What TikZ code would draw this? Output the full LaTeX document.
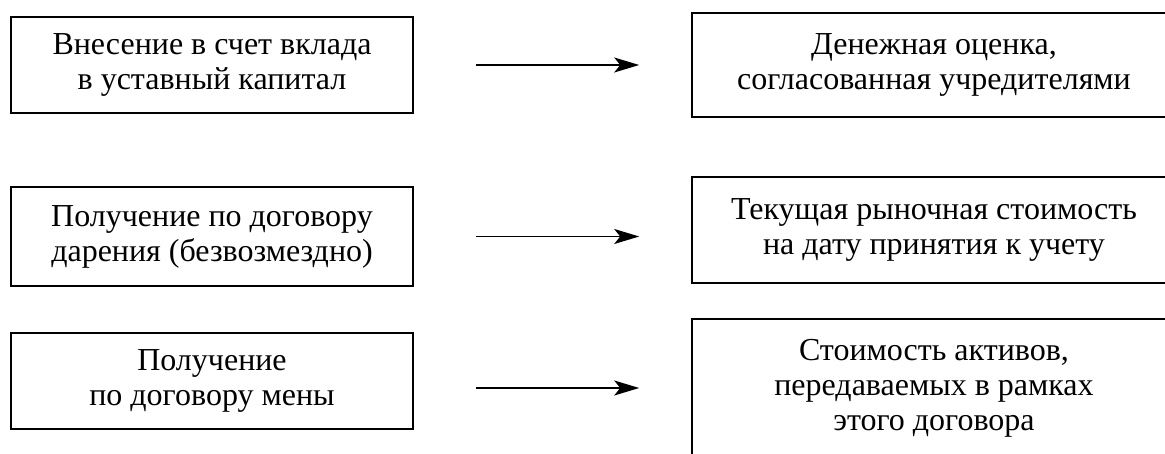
\documentclass[tikz,border=0pt]{standalone}
\usepackage{fontspec}
\setmainfont{Liberation Serif}
\usetikzlibrary{arrows.meta}

\tikzset{
  srcbox/.style={draw, line width=1.6pt, rectangle, align=center, inner sep=0pt,
                 minimum width=402pt, font=\fontsize{32}{35}\selectfont},
  valbox/.style={draw, line width=1.6pt, rectangle, align=center, inner sep=0pt,
                 minimum width=484pt, font=\fontsize{32}{35}\selectfont},
  toval/.style={line width=1.8pt, -{Stealth[length=25pt, width=15pt, inset=6pt]}}
}

\begin{document}
\begin{tikzpicture}[x=1pt, y=-1pt]

  % fix the page to the reference size
  \useasboundingbox (0,0) rectangle (1165,454);
  \clip (0,0) rectangle (1165,454);

  %% ════ left column: how the asset comes in ════
  \node[srcbox, minimum height=96pt] (l1) at (212,65)
    {Внесение в счет вклада\\в уставный капитал};
  \node[srcbox, minimum height=99pt] (l2) at (212,236.5)
    {Получение по договору\\дарения (безвозмездно)};
  \node[srcbox, minimum height=96pt] (l3) at (212,381)
    {Получение\\по договору мены};

  %% ════ right column: how it is valued (boxes run past the right edge) ════
  \node[valbox, minimum height=104pt] (r1) at (934,65)
    {Денежная оценка,\\согласованная учредителями};
  \node[valbox, minimum height=106pt] (r2) at (934,230)
    {Текущая рыночная стоимость\\на дату принятия к учету};
  \node[valbox, minimum height=138pt] (r3) at (934,388)
    {Стоимость активов,\\передаваемых в рамках\\этого договора};

  %% ════ arrows ════
  \draw[toval, shorten <=62pt, shorten >=52pt] (l1.east) -- (l1.east -| r1.west);
  \draw[toval, shorten <=62pt, shorten >=52pt] (l2.east) -- (l2.east -| r2.west);
  \draw[toval, shorten <=62pt, shorten >=52pt] (l3.east |- r3.west) -- (r3.west);
\end{tikzpicture}
\end{document}
